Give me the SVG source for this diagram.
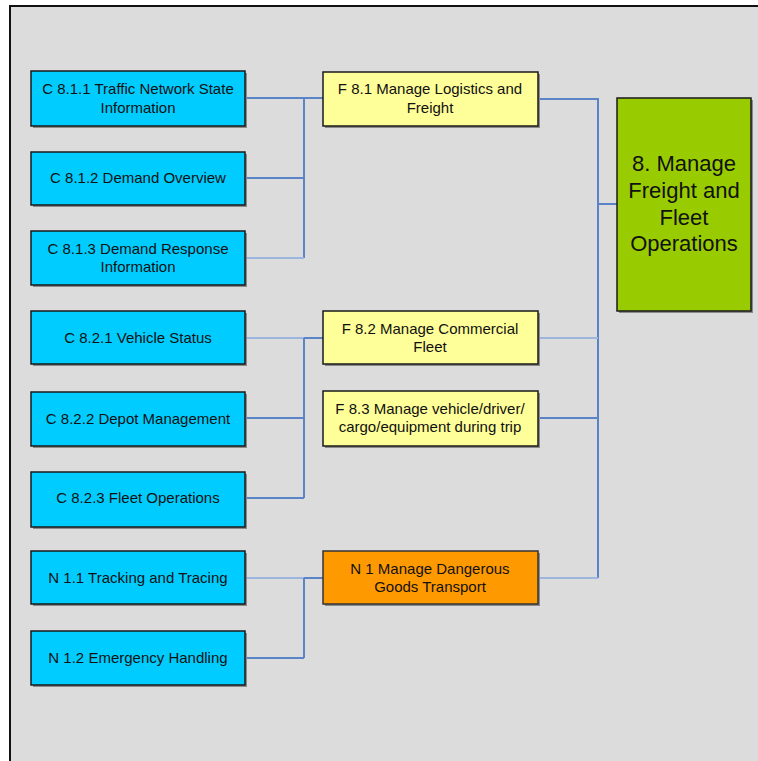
<svg xmlns="http://www.w3.org/2000/svg" width="758" height="761" viewBox="0 0 758 761">
<defs>
<style>
.frame{fill:#DCDCDC;stroke:#111;stroke-width:2}
.sh{fill:#8a8a8a}
.c{fill:#00CCFF;stroke:#1a1a1a;stroke-width:1.5}
.f{fill:#FFFF99;stroke:#1a1a1a;stroke-width:1.5}
.n{fill:#FF9900;stroke:#333;stroke-width:1.5}
.g{fill:#99CC00;stroke:#1a1a1a;stroke-width:1.5}
text{font-family:"Liberation Sans",Arial,sans-serif;font-size:15px;fill:#111;text-anchor:middle;dominant-baseline:central}
.big{font-size:22px}
.ln{fill:none;stroke:#5B84C8;stroke-width:2}
.lt{fill:none;stroke:#9DB6E0;stroke-width:2}
</style>
</defs>
<rect class="frame" x="10" y="6" width="760" height="770"/>
<g id="connectors">
<path class="ln" d="M245 98H304M304 98V258M304 98H323"/>
<path class="ln" d="M245 178H304" stroke-width="3"/>
<path class="lt" d="M245 258H304"/>
<path class="lt" d="M245 338H304"/>
<path class="ln" d="M304 338V498M304 338H323M245 418H304M245 498H304"/>
<path class="lt" d="M245 578H304"/>
<path class="ln" d="M304 578V658M304 578H323M245 658H304"/>
<path class="ln" d="M538 99H598V578M598 204H617M538 418H598"/>
<path class="lt" d="M538 338H598M538 578H598"/>
</g>
<g id="c811"><rect class="sh" x="33" y="73" width="214" height="55"/><rect class="c" x="31" y="71" width="214" height="55"/><text x="138" y="88">C 8.1.1 Traffic Network State</text><text x="138" y="107">Information</text></g>
<g id="c812"><rect class="sh" x="33" y="154" width="214" height="53"/><rect class="c" x="31" y="152" width="214" height="53"/><text x="138" y="177">C 8.1.2 Demand Overview</text></g>
<g id="c813"><rect class="sh" x="33" y="233" width="214" height="54"/><rect class="c" x="31" y="231" width="214" height="54"/><text x="138" y="248">C 8.1.3 Demand Response</text><text x="138" y="266">Information</text></g>
<g id="c821"><rect class="sh" x="33" y="313" width="214" height="53"/><rect class="c" x="31" y="311" width="214" height="53"/><text x="138" y="337">C 8.2.1 Vehicle Status</text></g>
<g id="c822"><rect class="sh" x="33" y="394" width="214" height="54"/><rect class="c" x="31" y="392" width="214" height="54"/><text x="138" y="418">C 8.2.2 Depot Management</text></g>
<g id="c823"><rect class="sh" x="33" y="474" width="214" height="55"/><rect class="c" x="31" y="472" width="214" height="55"/><text x="138" y="497">C 8.2.3 Fleet Operations</text></g>
<g id="n11"><rect class="sh" x="33" y="553" width="214" height="53"/><rect class="c" x="31" y="551" width="214" height="53"/><text x="138" y="577">N 1.1 Tracking and Tracing</text></g>
<g id="n12"><rect class="sh" x="33" y="633" width="214" height="54"/><rect class="c" x="31" y="631" width="214" height="54"/><text x="138" y="657">N 1.2 Emergency Handling</text></g>
<g id="f81"><rect class="sh" x="325" y="74" width="215" height="54"/><rect class="f" x="323" y="72" width="215" height="54"/><text x="430" y="88">F 8.1 Manage Logistics and</text><text x="430" y="107">Freight</text></g>
<g id="f82"><rect class="sh" x="325" y="313" width="215" height="53"/><rect class="f" x="323" y="311" width="215" height="53"/><text x="430" y="328">F 8.2 Manage Commercial</text><text x="430" y="346">Fleet</text></g>
<g id="f83"><rect class="sh" x="325" y="393" width="215" height="55"/><rect class="f" x="323" y="391" width="215" height="55"/><text x="430" y="408">F 8.3 Manage vehicle/driver/</text><text x="430" y="426">cargo/equipment during trip</text></g>
<g id="n1"><rect class="sh" x="325" y="553" width="215" height="53"/><rect class="n" x="323" y="551" width="215" height="53"/><text x="430" y="568">N 1 Manage Dangerous</text><text x="430" y="586">Goods Transport</text></g>
<g id="g8"><rect class="sh" x="619" y="100" width="134" height="213"/><rect class="g" x="617" y="98" width="134" height="213"/><text class="big" x="684" y="163">8. Manage</text><text class="big" x="684" y="190">Freight and</text><text class="big" x="684" y="217">Fleet</text><text class="big" x="684" y="243">Operations</text></g>
</svg>
